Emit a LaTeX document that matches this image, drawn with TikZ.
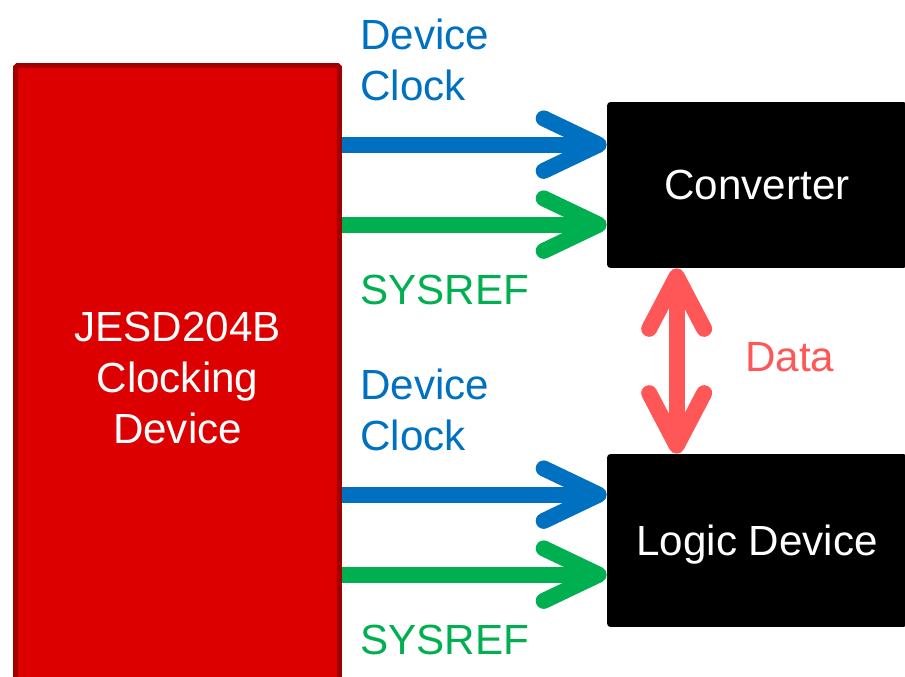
\documentclass[tikz,border=0pt]{standalone}
\usepackage{fontspec}
\setmainfont{Liberation Sans}
\usepackage{tikz}
\usetikzlibrary{arrows.meta, positioning}
\usepackage{xcolor}

\definecolor{clkred}{HTML}{DD0000}
\definecolor{clkborder}{HTML}{A20000}
\definecolor{devblue}{HTML}{0070C0}
\definecolor{refgreen}{HTML}{00B050}
\definecolor{datared}{HTML}{FF5757}

\begin{document}
\begin{tikzpicture}[
    x=0.02cm, y=-0.02cm,
    font=\fontsize{24}{29}\selectfont,
    clockbox/.style={rectangle, draw=clkborder, fill=clkred, line width=0.1cm, rounded corners=1pt, minimum width=6.48cm, minimum height=12.5cm, text=white, align=center},
    chip/.style={rectangle, fill=black, rounded corners=2pt, minimum width=6cm, text depth=0pt, text=white, align=center},
    label/.style={inner sep=0pt, align=left},
    sigarrow/.style={line width=0.32cm, -{Straight Barb[length=1.1cm, width=1.05cm, round]}},
    dataarrow/.style={line width=0.32cm, {Straight Barb[length=1.05cm, width=1.1cm, round]}-{Straight Barb[length=1.05cm, width=1.1cm, round]}, datared}
]
\useasboundingbox (0,0) rectangle (905,676);

% Blocks
\node[clockbox] (clocking) at (177.5,378) {JESD204B\\Clocking\\Device};
\node[chip, minimum height=3.32cm] (converter) at (757,185) {Converter};
\node[chip, minimum height=3.46cm] (logic) at (757,540.5) {Logic Device};

% Signal levels on the chips
\coordinate (dc1) at ([yshift=-0.86cm]converter.north west);
\coordinate (sr1) at ([yshift=-2.46cm]converter.north west);
\coordinate (dc2) at ([yshift=-0.82cm]logic.north west);
\coordinate (sr2) at ([yshift=-2.42cm]logic.north west);

% Arrows
\draw[sigarrow, devblue] (dc1 -| clocking.east) -- (dc1);
\draw[sigarrow, refgreen] (sr1 -| clocking.east) -- (sr1);
\draw[sigarrow, devblue] (dc2 -| clocking.east) -- (dc2);
\draw[sigarrow, refgreen] (sr2 -| clocking.east) -- (sr2);
\draw[dataarrow] ([xshift=1.4cm]converter.south west) -- ([xshift=1.4cm]logic.north west);

% Labels
\node[label, anchor=west, text=devblue] (clk1) at (360,60) {Device\\Clock};
\node[label, anchor=west, text=refgreen] (ref1) at (360,290) {SYSREF};
\node[label, anchor=west, text=devblue] (clk2) at (360,410) {Device\\Clock};
\node[label, anchor=west, text=refgreen] (ref2) at (360,640) {SYSREF};
\node[label, anchor=west, text=datared] (data) at (745,357) {Data};

\end{tikzpicture}
\end{document}
